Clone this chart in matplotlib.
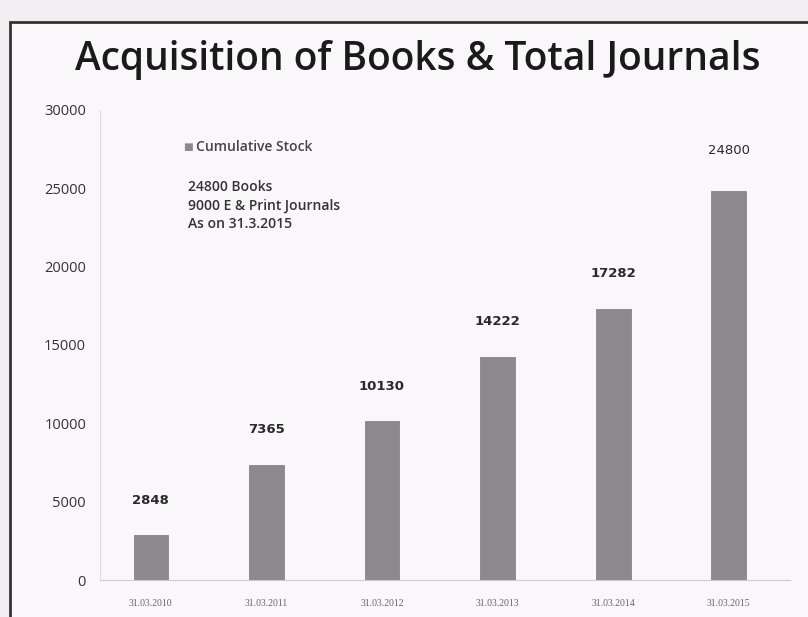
import matplotlib.pyplot as plt
from matplotlib.patches import Rectangle

# data
dates = ['31.03.2010', '31.03.2011', '31.03.2012', '31.03.2013', '31.03.2014', '31.03.2015']
stock = [2848, 7365, 10130, 14222, 17282, 24800]
yticks = [0, 5000, 10000, 15000, 20000, 25000, 30000]
note_lines = ['24800 Books', '9000 E & Print Journals', 'As on 31.3.2015']

fig = plt.figure(figsize=(8.08, 6.17), dpi=100)
fig.patch.set_facecolor('#f3eef1')

# the slide frame, behind everything else
W, H = 808, 617
frame = Rectangle((10 / W, -0.05), 1.0, (H - 22) / H + 0.05, transform=fig.transFigure,
                  facecolor='#f9f7f9', edgecolor='#333333', linewidth=2.0, zorder=-10)
fig.patches.append(frame)

fig.text(418 / W, 1 - 60 / H, 'Acquisition of Books & Total Journals',
         ha='center', va='center', fontsize=28, family='Open Sans',
         fontweight='semibold', color='#1a1a1a')

ax = fig.add_axes([100 / W, 1 - 580 / H, 690 / W, 470 / H], zorder=5)
ax.set_facecolor('none')

x = list(range(len(dates)))
ax.bar(x, stock, width=0.3, color='#8b898b', edgecolor='#7a787a', linewidth=0.5)

for xi, v in zip(x, stock):
    last = xi == x[-1]
    ax.text(xi, v + (2600 if last else 2250), str(v), ha='center', va='center',
            fontsize=9.5, fontweight='normal' if last else 'bold', color='#2a2a2a')

ax.set_ylim(0, 30000)
ax.set_xlim(-0.44, 5.53)
ax.set_yticks(yticks)
ax.set_yticklabels([str(t) for t in yticks], fontsize=10.5, family='Open Sans', color='#333333')
ax.set_xticks(x)
ax.set_xticklabels(dates, fontsize=7, family='Liberation Serif', color='#666666')
ax.tick_params(axis='y', length=0, pad=10)
ax.tick_params(axis='x', length=0, pad=14)

for side in ['top', 'right']:
    ax.spines[side].set_visible(False)
ax.spines['left'].set_color('#dddddd')
ax.spines['bottom'].set_color('#cccccc')

# legend and note
ax.text(0.28, 27630, '\u25a0', fontsize=7.5, family=['DejaVu Sans'],
        color='#8b898b', va='center')
ax.text(0.39, 27630, 'Cumulative Stock', fontsize=10, family=['Open Sans', 'DejaVu Sans'],
        fontweight='semibold', color='#444444', va='center')
ax.text(0.32, 23910, '\n'.join(note_lines), fontsize=10, family='Open Sans',
        fontweight='semibold', color='#333333', va='center', linespacing=1.4)

fig.savefig('out.png', dpi=100, facecolor=fig.get_facecolor())
